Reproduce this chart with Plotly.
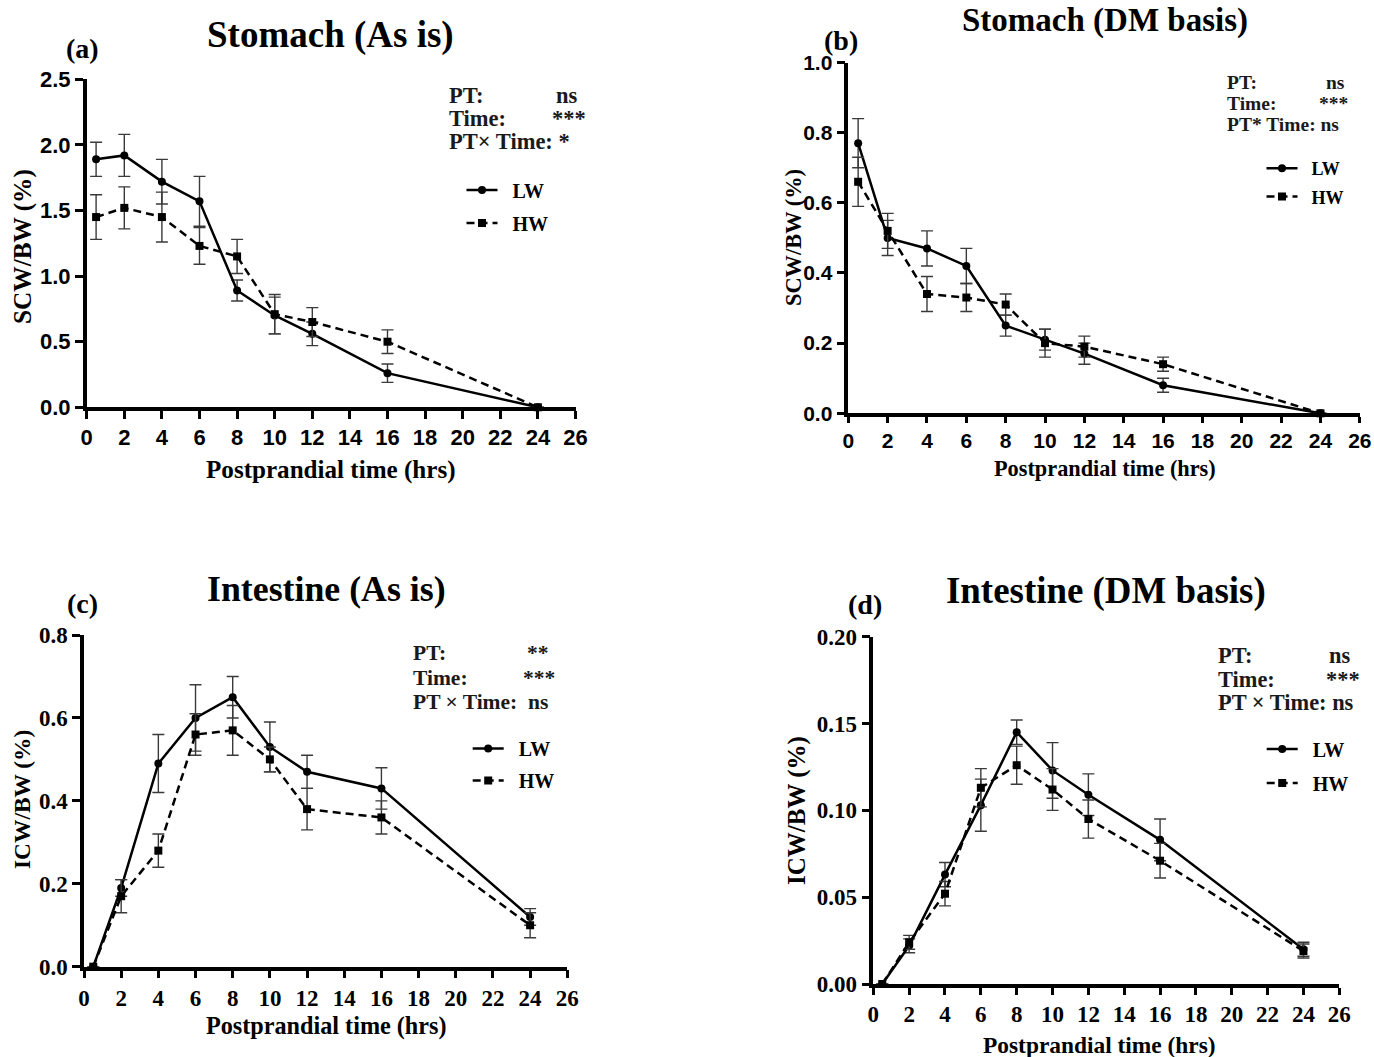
import plotly.graph_objects as go

# ---- data -----------------------------------------------------------------
time_hrs = [0.5, 2, 4, 6, 8, 10, 12, 16, 24]

stomach_as_is_lw = [1.89, 1.92, 1.72, 1.57, 0.89, 0.70, 0.56, 0.26, 0.00]
stomach_as_is_lw_se = [0.13, 0.16, 0.17, 0.19, 0.08, 0.14, 0.09, 0.07, 0.0]
stomach_as_is_hw = [1.45, 1.52, 1.45, 1.23, 1.15, 0.71, 0.65, 0.50, 0.00]
stomach_as_is_hw_se = [0.17, 0.16, 0.19, 0.14, 0.13, 0.15, 0.11, 0.09, 0.0]

stomach_dm_lw = [0.77, 0.50, 0.47, 0.42, 0.25, 0.21, 0.17, 0.08, 0.00]
stomach_dm_lw_se = [0.07, 0.05, 0.05, 0.05, 0.03, 0.03, 0.03, 0.02, 0.0]
stomach_dm_hw = [0.66, 0.52, 0.34, 0.33, 0.31, 0.20, 0.19, 0.14, 0.00]
stomach_dm_hw_se = [0.07, 0.05, 0.05, 0.04, 0.03, 0.04, 0.03, 0.02, 0.0]

intestine_as_is_lw = [0.00, 0.19, 0.49, 0.60, 0.65, 0.53, 0.47, 0.43, 0.12]
intestine_as_is_lw_se = [0.0, 0.02, 0.07, 0.08, 0.05, 0.06, 0.04, 0.05, 0.02]
intestine_as_is_hw = [0.00, 0.17, 0.28, 0.56, 0.57, 0.50, 0.38, 0.36, 0.10]
intestine_as_is_hw_se = [0.0, 0.04, 0.04, 0.05, 0.06, 0.03, 0.05, 0.04, 0.03]

intestine_dm_lw = [0.000, 0.022, 0.063, 0.103, 0.145, 0.123, 0.109, 0.083, 0.020]
intestine_dm_lw_se = [0.0, 0.004, 0.007, 0.015, 0.007, 0.016, 0.012, 0.012, 0.004]
intestine_dm_hw = [0.000, 0.024, 0.052, 0.113, 0.126, 0.112, 0.095, 0.071, 0.019]
intestine_dm_hw_se = [0.0, 0.004, 0.007, 0.011, 0.011, 0.012, 0.011, 0.010, 0.004]

panel_titles = ["Stomach (As is)", "Stomach (DM basis)",
                "Intestine (As is)", "Intestine (DM basis)"]
panel_letters = ["(a)", "(b)", "(c)", "(d)"]
y_titles = ["SCW/BW (%)", "SCW/BW (%)", "ICW/BW (%)", "ICW/BW (%)"]
x_title = "Postprandial time (hrs)"
series_names = ["LW", "HW"]

stats = [
    [("PT:", "ns"), ("Time:", "***"), ("PT× Time: *", None)],
    [("PT:", "ns"), ("Time:", "***"), ("PT* Time: ns", None)],
    [("PT:", "**"), ("Time:", "***"), ("PT × Time:  ns", None)],
    [("PT:", "ns"), ("Time:", "***"), ("PT × Time: ns", None)],
]

# ---- layout helpers -------------------------------------------------------
W, H = 1374, 1057
SERIF = "Liberation Serif"
SANS = "Liberation Sans"
NBSP = "\u00a0"


def px(x):
    return x / W


def py(y):
    return 1 - y / H


# plot-area boxes in pixels: left, right, top, bottom
boxes = [
    (86.7, 575.5, 79.3, 407.3),
    (848.3, 1359.8, 62.5, 413.3),
    (84.0, 567.3, 635.0, 966.7),
    (873.3, 1339.3, 636.7, 984.0),
]
y_ranges = [(0, 2.5), (0, 1.0), (0, 0.8), (0, 0.20)]
y_dticks = [0.5, 0.2, 0.2, 0.05]
y_formats = [".1f", ".1f", ".1f", ".2f"]
tick_fonts = [(SANS, 22), (SANS, 21), (SERIF, 23), (SERIF, 23)]
tick_lens = [8, 6, 8, 7]

panels = [
    (stomach_as_is_lw, stomach_as_is_lw_se, stomach_as_is_hw, stomach_as_is_hw_se),
    (stomach_dm_lw, stomach_dm_lw_se, stomach_dm_hw, stomach_dm_hw_se),
    (intestine_as_is_lw, intestine_as_is_lw_se, intestine_as_is_hw, intestine_as_is_hw_se),
    (intestine_dm_lw, intestine_dm_lw_se, intestine_dm_hw, intestine_dm_hw_se),
]

fig = go.Figure()
layout = dict(
    width=W, height=H, autosize=False,
    margin=dict(l=0, r=0, t=0, b=0, autoexpand=False),
    paper_bgcolor="white", plot_bgcolor="white",
    showlegend=True,
)

ERR_COLOR = "#3a3a3a"

for i, (lw, lw_se, hw, hw_se) in enumerate(panels):
    n = "" if i == 0 else str(i + 1)
    xa, ya = "x" + n, "y" + n
    leg = "legend" + n
    fig.add_trace(go.Scatter(
        x=time_hrs, y=lw, name=NBSP * 2 + series_names[0], xaxis=xa, yaxis=ya,
        mode="lines+markers", legend=leg, legendgroup=f"lw{i}",
        line=dict(color="black", width=2.5),
        marker=dict(symbol="circle", size=8, color="black"),
        error_y=dict(type="data", array=lw_se, color=ERR_COLOR,
                     thickness=1.4, width=6),
        cliponaxis=False,
    ))
    fig.add_trace(go.Scatter(
        x=time_hrs, y=hw, name=NBSP * 2 + series_names[1], xaxis=xa, yaxis=ya,
        mode="lines+markers", legend=leg, legendgroup=f"hw{i}",
        line=dict(color="black", width=2.5, dash="8px,5px"),
        marker=dict(symbol="square", size=8, color="black"),
        error_y=dict(type="data", array=hw_se, color=ERR_COLOR,
                     thickness=1.4, width=6),
        cliponaxis=False,
    ))

    l, r, t, b = boxes[i]
    fam, fsize = tick_fonts[i]
    tickfont = dict(family=fam, size=fsize, color="black", weight="bold")
    layout["xaxis" + n] = dict(
        domain=[px(l), px(r)], anchor=ya, range=[0, 26],
        tick0=0, dtick=2, ticks="outside", ticklen=tick_lens[i], tickwidth=3,
        tickcolor="black", showline=True, linewidth=3.5, linecolor="black",
        showgrid=False, zeroline=False, tickfont=tickfont,
    )
    layout["yaxis" + n] = dict(
        domain=[py(b), py(t)], anchor=xa, range=list(y_ranges[i]),
        tick0=0, dtick=y_dticks[i], tickformat=y_formats[i],
        ticks="outside", ticklen=8, tickwidth=3, tickcolor="black",
        showline=True, linewidth=3.5, linecolor="black",
        showgrid=False, zeroline=False, tickfont=tickfont,
    )

# legend placement per panel (pixel position of the top-left corner)
legend_pos = [(461.5, 170.5), (1261.5, 150), (467.7, 729), (1261.7, 729.5)]
legend_sizes = [20, 18, 20, 20]
legend_gaps = [4, 2, 3, 5]
for i, (lx, ly) in enumerate(legend_pos):
    n = "" if i == 0 else str(i + 1)
    layout["legend" + n] = dict(
        x=px(lx), y=py(ly), xanchor="left", yanchor="top",
        xref="paper", yref="paper",
        bgcolor="rgba(0,0,0,0)", borderwidth=0,
        font=dict(family=SERIF, size=legend_sizes[i], color="black", weight="bold"),
        itemwidth=31, tracegroupgap=legend_gaps[i], traceorder="grouped",
    )

fig.update_layout(**layout)

annotations = []


def add_text(x, y, text, size, xanchor="left", yanchor="middle",
             family=SERIF, angle=0, color="black"):
    annotations.append(dict(
        x=px(x), y=py(y), xref="paper", yref="paper", text=text,
        showarrow=False, xanchor=xanchor, yanchor=yanchor, textangle=angle,
        font=dict(family=family, size=size, color=color, weight="bold"),
    ))


# titles, panel letters and axis titles
title_pos = [(330, 35, 37), (1105, 21, 33), (326, 589, 35.8), (1106, 591, 36.9)]
letter_pos = [(82, 48), (841, 40), (82, 603), (865, 604)]
xtitle_pos = [(331, 470, 25.1), (1105, 468, 22.3), (326, 1026, 24.2), (1099, 1045, 23.4)]
ytitle_pos = [(22, 247, 25.3), (793, 238, 22.4), (22, 800, 23.4), (797, 811, 25)]
for i in range(4):
    tx, ty, ts = title_pos[i]
    add_text(tx, ty, panel_titles[i], ts, xanchor="center")
    add_text(letter_pos[i][0], letter_pos[i][1], panel_letters[i], 28, xanchor="center")
    xx, xy, xs = xtitle_pos[i]
    add_text(xx, xy, x_title, xs, xanchor="center")
    yx, yy, ys_ = ytitle_pos[i]
    add_text(yx, yy, y_titles[i], ys_, xanchor="center", angle=-90)

# significance block in each panel
stat_layout = [
    # left x, value x positions, row ys, font size, value anchors
    (446.7, [554, 588, None], [95, 118.3, 141.7], 22.5, ["left", "right", None]),
    (1225, [1324, 1350, None], [82, 103, 124], 19.5, ["left", "right", None]),
    (411, [525, 556.7, None], [653.3, 678.3, 701.7], 21.5, ["left", "right", None]),
    (1216, [1327.3, 1361.7, None], [655, 679.3, 702.7], 22.4, ["left", "right", None]),
]
for i, rows in enumerate(stats):
    lx, vxs, ys, fs, anchors = stat_layout[i]
    for j, (label, value) in enumerate(rows):
        add_text(lx, ys[j], label, fs, color="#1a1a1a")
        if value is not None:
            add_text(vxs[j], ys[j], value, fs, xanchor=anchors[j], color="#1a1a1a")

fig.update_layout(annotations=annotations)
fig.write_html("out.html")
